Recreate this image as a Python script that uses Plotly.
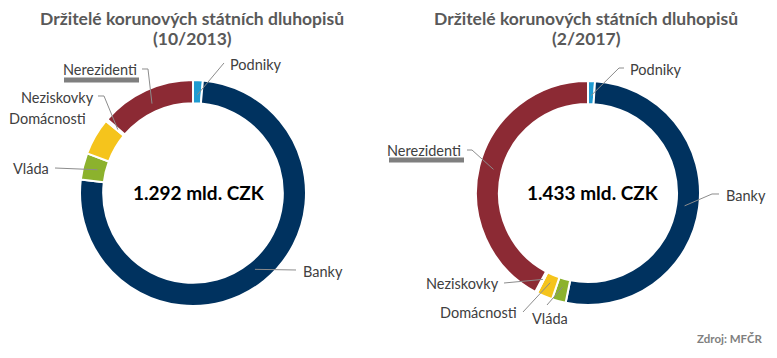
import math
import plotly.graph_objects as go

W, H = 777, 358
OFF = 8  # page body margin offset of the rendered figure

categories = ["Podniky", "Banky", "Vláda", "Domácnosti", "Neziskovky", "Nerezidenti"]
values_2013 = [1.4, 75.5, 3.8, 5.3, 0.3, 13.7]
values_2017 = [1.0, 52.2, 2.0, 2.3, 0.3, 42.2]
colors = ["#1f9bd1", "#00325f", "#8cb22d", "#f5c41c", "#d9d9d9", "#8c2a34"]
title_line1 = "Držitelé korunových státních dluhopisů"
title_line2 = ["(10/2013)", "(2/2017)"]
totals = ["1.292 mld. CZK", "1.433 mld. CZK"]
source = "Zdroj: MFČR"

# pie geometry in screen pixels (center x, center y, radius)
geoms = [(193, 193, 113), (588, 193, 112)]
HOLE = 0.795


def px(x):
    return (x - OFF) / W


def py(y):
    return 1 - (y - OFF) / H


fig = go.Figure()
for vals, (cx, cy, r) in zip([values_2013, values_2017], geoms):
    fig.add_trace(go.Pie(
        labels=categories, values=vals, sort=False, direction="clockwise",
        rotation=0, hole=HOLE, textinfo="none", showlegend=False,
        marker=dict(colors=colors, line=dict(color="white", width=2)),
        domain=dict(x=[px(cx - r), px(cx + r)], y=[py(cy + r), py(cy - r)]),
    ))


def mid_point(vals, idx, geom, frac=0.87):
    cx, cy, r = geom
    tot = sum(vals)
    start = sum(vals[:idx]) / tot * 360
    mid = start + vals[idx] / tot * 360 / 2
    a = math.radians(mid)
    return cx + frac * r * math.sin(a), cy - frac * r * math.cos(a)


# label layout: (category index, text x, text y, anchor, leader points before ring point)
label_layout = [
    [
        (0, 228, 64, "left", [(224, 63)]),
        (5, 139, 70, "right", [(142, 69), (148, 69)]),
        (4, 96, 97, "right", [(98, 96), (104, 96)]),
        (3, 88, 118, "right", None),
        (2, 51, 168, "right", [(55, 168)]),
        (1, 301, 271, "left", [(296, 270)]),
    ],
    [
        (0, 628, 70, "left", [(624, 68), (619, 68)]),
        (1, 724, 195, "left", [(719, 194), (712, 194)]),
        (5, 463, 150, "right", [(467, 150), (472, 150)]),
        (4, 501, 283, "right", [(504, 283)]),
        (3, 519, 312, "right", [(523, 312)]),
        (2, 530, 318, "left", [(547, 305)]),
    ],
]
title_x = [192, 586]
total_x = [199, 593]

annotations = []
shapes = []
for k, (vals, geom) in enumerate(zip([values_2013, values_2017], geoms)):
    cx, cy, r = geom
    for txt, ty in [(title_line1, 18), (title_line2[k], 39)]:
        annotations.append(dict(
            text=f"<b>{txt}</b>", x=px(title_x[k]), y=py(ty), xref="paper", yref="paper",
            xanchor="center", yanchor="middle", showarrow=False,
            font=dict(family="Lato", size=17.5, color="#595959")))
    annotations.append(dict(
        text=f"<b>{totals[k]}</b>", x=px(total_x[k]), y=py(cy - 1), xref="paper", yref="paper",
        xanchor="center", yanchor="middle", showarrow=False,
        font=dict(family="Lato", size=19, color="#000000")))
    for idx, tx, ty, anc, pts in label_layout[k]:
        annotations.append(dict(
            text=categories[idx], x=px(tx), y=py(ty), xref="paper", yref="paper",
            xanchor=anc, yanchor="middle", showarrow=False,
            font=dict(family="Lato", size=14.5, color="#404040")))
        if pts:
            ex, ey = mid_point(vals, idx, geom)
            allp = pts + [(ex, ey)]
            path = "M " + " L ".join(f"{px(x):.5f},{py(y):.5f}" for x, y in allp)
            shapes.append(dict(type="path", path=path, xref="paper", yref="paper",
                               line=dict(color="#8c8c8c", width=1)))

# grey underline bars beneath "Nerezidenti"
for x0, x1, y in [(64, 139, 80), (389, 464, 160)]:
    shapes.append(dict(type="line", x0=px(x0), x1=px(x1), y0=py(y), y1=py(y),
                       xref="paper", yref="paper",
                       line=dict(color="#7f7f7f", width=5)))

annotations.append(dict(
    text=f"<b>{source}</b>", x=px(765), y=py(338), xref="paper", yref="paper",
    xanchor="right", yanchor="middle", showarrow=False,
    font=dict(family="Lato", size=11.5, color="#7f7f7f")))

fig.update_layout(
    width=W, height=H, margin=dict(l=0, r=0, t=0, b=0),
    paper_bgcolor="white", plot_bgcolor="white",
    annotations=annotations, shapes=shapes,
)
fig.write_html("out.html")
